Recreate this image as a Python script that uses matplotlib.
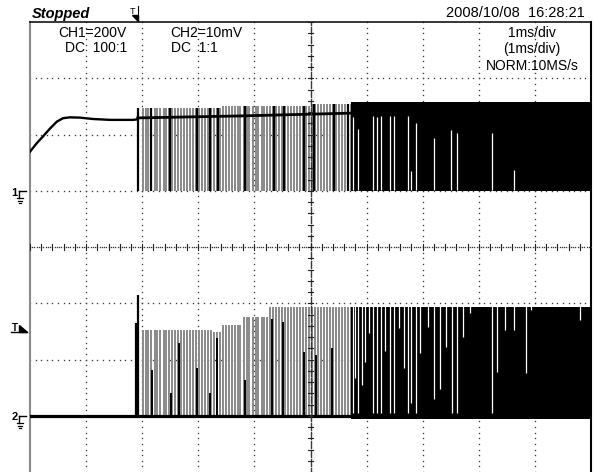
import numpy as np
import matplotlib
matplotlib.use('Agg')
import matplotlib.pyplot as plt
from matplotlib.lines import Line2D
from matplotlib.patches import Polygon

plt.rcParams['font.family'] = ['Liberation Sans', 'DejaVu Sans']

W, H = 596, 472

# scope settings
ch1_vdiv, ch1_zero = 200.0, 1.0    # V/div, ground position (div)
ch2_vdiv, ch2_zero = 10.0, -3.0    # mV/div, ground position (div)

# CH1 before switching starts (ms, V)
ch1_pre_t = [0.0, 0.12, 0.24, 0.36, 0.48, 0.59, 0.71, 0.89, 1.13, 1.43, 1.84, 1.92]
ch1_pre_v = [139, 169, 195, 222, 246, 258, 261, 260, 255, 252, 252, 254]

# CH1 plateau while switching (ms, V)
ch1_flat_t = [1.92, 3.75, 5.73]
ch1_flat_v = [259, 266, 276]

# pulse top levels (step changes)
ch1_top_t = [1.90, 3.40, 5.00, 5.73]
ch1_top_v = [294, 301, 308, 316]
ch2_top_t = [1.95, 3.27, 3.39, 3.80, 4.25]
ch2_top_mv = [15.2, 14.9, 16.1, 17.6, 19.3]

# switching pulses seen in the sparse part (ms)
pulse_t = [2.01, 2.06, 2.11, 2.16, 2.22, 2.27, 2.32, 2.38, 2.43, 2.48,
           2.54, 2.59, 2.64, 2.69, 2.75, 2.80, 2.85, 2.91, 2.96, 3.01,
           3.07, 3.12, 3.17, 3.22, 3.28, 3.33, 3.38, 3.44, 3.49, 3.54,
           3.60, 3.65, 3.70, 3.75, 3.81, 3.86, 3.91, 3.97, 4.02, 4.07,
           4.13, 4.18, 4.23, 4.28, 4.34, 4.39, 4.44, 4.50, 4.55, 4.60,
           4.66, 4.71, 4.76, 4.81, 4.87, 4.92, 4.97, 5.03, 5.08, 5.13,
           5.19, 5.24, 5.29, 5.34, 5.40, 5.45, 5.50, 5.56, 5.61, 5.66, 5.72]

# darker (wider) pulses on CH1
ch1_dark_t = [1.93, 2.16, 2.50, 2.98, 3.21, 3.36, 3.84, 4.35, 4.52, 4.89, 5.07, 5.41, 5.66]

# CH2 turn-on spike and partial-height pulses (ms, mV)
ch2_spike_t = [1.89, 1.92]
ch2_spike_mv = [16.5, 21.5]
ch2_part_t = [2.17, 2.51, 2.66, 2.97, 3.21, 3.34, 3.84, 4.32, 4.51, 4.89, 5.09, 5.39]
ch2_part_mv = [8.1, 4.1, 12.9, 8.5, 4.0, 13.8, 6.4, 17.2, 16.6, 11.4, 10.8, 12.0]

# dense part: solid trace with white gaps (gap runs from top down to level)
dense_start = 5.73
ch1_dense_top = 316
ch2_dense_top = 19.3
ch1_gap_t = [5.75, 5.84, 6.12, 6.18, 6.26, 6.41, 6.49, 6.73, 6.80, 6.88,
             7.20, 7.51, 7.62, 8.24, 8.62]
ch1_gap_v = [262, 220, 266, 262, 266, 266, 266, 266, 70, 241,
             188, 216, 205, 205, 74]
ch2_gap_t = [5.76, 5.80, 5.84, 5.91, 5.98, 6.04, 6.12, 6.18, 6.26, 6.32,
             6.41, 6.49, 6.57, 6.66, 6.73, 6.80, 6.88, 6.95, 7.10, 7.20,
             7.30, 7.41, 7.52, 7.62, 7.71, 7.84, 8.24, 8.33, 8.46, 8.62,
             8.84, 8.93, 9.80]
ch2_gap_mv = [0.5, 6.8, 0.5, 5.5, 9.6, 14.7, 0.5, 0.5, 0.5, 11.5,
              0.5, 0.5, 15.6, 8.5, 0.5, 2.3, 0.5, 11.2, 15.8, 3.0,
              4.8, 12.2, 0.5, 0.5, 14.0, 18.3, 0.5, 7.8, 15.2, 15.2,
              7.6, 18.8, 17.0]


def c1(v):
    return ch1_zero + np.asarray(v, dtype=float) / ch1_vdiv


def c2(mv):
    return ch2_zero + np.asarray(mv, dtype=float) / ch2_vdiv


def step(tq, edges, vals):
    idx = np.searchsorted(edges, tq, side='right') - 1
    return np.asarray(vals, dtype=float)[np.clip(idx, 0, None)]


fig = plt.figure(figsize=(W / 100, H / 100), dpi=100)
ax = fig.add_axes([30 / W, 0, 561 / W, 450 / H])
ax.set_xlim(0, 10)
ax.set_ylim(-4, 4)
ax.set_xticks([])
ax.set_yticks([])
ax.spines['bottom'].set_visible(False)
ax.spines['left'].set_color('#8a8a8a')
ax.spines['left'].set_linewidth(1.5)
ax.spines['right'].set_linewidth(1.5)
ax.spines['top'].set_linewidth(1.1)

# graticule dots
dot = dict(ls='none', marker='s', ms=0.95, mew=0, color='#3a3a3a', zorder=1)
ys = np.arange(-40, 41) / 10
xs = np.arange(0, 101) / 10
for gx in [1, 2, 3, 4, 6, 7, 8, 9]:
    ax.plot(np.full_like(ys, gx), ys, **dot)
for gy in [-3, -2, -1, 1, 2, 3]:
    ax.plot(xs, np.full_like(xs, gy), **dot)
# centre lines with fine ticks
yc = np.arange(-200, 201) / 50
xc = np.arange(0, 251) / 25
ax.plot(np.full_like(yc, 5), yc, **dict(dot, zorder=6))
ax.plot(xc, np.zeros_like(xc), **dict(dot, zorder=6))
for k in np.arange(-20, 21) / 5:
    ax.plot([4.95, 5.05], [k, k], color='#222222', lw=0.8, zorder=6)
for k in np.arange(0, 51) / 5:
    ax.plot([k, k], [-0.05, 0.05], color='#222222', lw=0.8, zorder=6)

# ---- CH1 ----
ax.plot(ch1_pre_t, c1(ch1_pre_v), color='black', lw=1.7, zorder=4)
pt = np.asarray(pulse_t)
ax.vlines(pt, c1(0), c1(step(pt, ch1_top_t, ch1_top_v)),
          color='#8c8c8c', lw=1.45, zorder=3)
dt = np.asarray(ch1_dark_t)
ax.vlines(dt, c1(0), c1(step(dt, ch1_top_t, ch1_top_v)),
          color='black', lw=1.6, zorder=3)
ax.plot(ch1_flat_t, c1(ch1_flat_v), color='black', lw=2.0, zorder=4)
ax.fill_between([dense_start, 10], c1(0), c1(ch1_dense_top),
                color='black', lw=0, zorder=3)
ax.vlines(ch1_gap_t, c1(2), c1(ch1_gap_v), color='white', lw=0.9, zorder=4)

# ---- CH2 ----
ax.plot([0, 10], [c2(0), c2(0)], color='black', lw=2.3, zorder=4)
ax.vlines(pt, c2(0), c2(step(pt, ch2_top_t, ch2_top_mv)),
          color='#8c8c8c', lw=1.45, zorder=3)
ax.vlines(ch2_part_t, c2(0), c2(ch2_part_mv), color='black', lw=1.4, zorder=3)
ax.vlines(ch2_spike_t, c2(0), c2(ch2_spike_mv), color='black', lw=1.6, zorder=4)
ax.fill_between([dense_start, 10], c2(-0.6), c2(ch2_dense_top),
                color='black', lw=0, zorder=3)
ax.vlines(ch2_gap_t, c2(ch2_gap_mv), c2(ch2_dense_top + 0.2),
          color='white', lw=0.9, zorder=4)


# ---- screen annotations (figure pixel positions) ----
def fx(x):
    return x / W


def fy(y):
    return 1 - y / H


def seg(x0, y0, x1, y1, lw=1.0, color='black'):
    fig.add_artist(Line2D([fx(x0), fx(x1)], [fy(y0), fy(y1)], lw=lw,
                          color=color, transform=fig.transFigure))


def txt(x, y, s, ha='left', **kw):
    fig.text(fx(x), fy(y), s, ha=ha, va='center', fontsize=kw.pop('size', 10), **kw)


txt(32, 14, 'Stopped', size=10.5, fontweight='bold', fontstyle='italic')
txt(585, 13, '2008/10/08  16:28:21', ha='right', size=10.5)
txt(58, 33, 'CH1=200V')
txt(65, 48, 'DC  100:1')
txt(170, 33, 'CH2=10mV')
txt(171, 48, 'DC  1:1')
txt(532, 33, '1ms/div', ha='center')
txt(532, 49, '(1ms/div)', ha='center')
txt(532, 66, 'NORM:10MS/s', ha='center')

# trigger position marker (top)
txt(133, 11, 'T', ha='center', size=6.5)
fig.add_artist(Polygon([[fx(131.5), fy(15)], [fx(138), fy(15)], [fx(138), fy(21)]],
                       closed=True, color='black', transform=fig.transFigure))
seg(138, 6, 138, 21, lw=0.8)


# ground markers
def ground(y0, label):
    txt(14.5, y0 + 1.5, label, ha='center', size=8, fontweight='bold')
    seg(18.5, y0, 25.5, y0, lw=1.0)
    seg(19.3, y0, 19.3, y0 + 7, lw=1.0)
    seg(16.5, y0 + 7, 23, y0 + 7, lw=0.9)
    seg(17.5, y0 + 9.5, 22, y0 + 9.5, lw=0.9)
    seg(18.7, y0 + 12, 21, y0 + 12, lw=0.9)


ground(191, '1')
ground(416, '2')

# trigger level marker
txt(15, 328, 'T', ha='center', size=7, fontweight='bold')
seg(11, 332, 27, 332, lw=1.0)
fig.add_artist(Polygon([[fx(19), fy(325)], [fx(19), fy(332)], [fx(27), fy(332)]],
                       closed=True, color='black', transform=fig.transFigure))

fig.savefig('out.png', dpi=100)
